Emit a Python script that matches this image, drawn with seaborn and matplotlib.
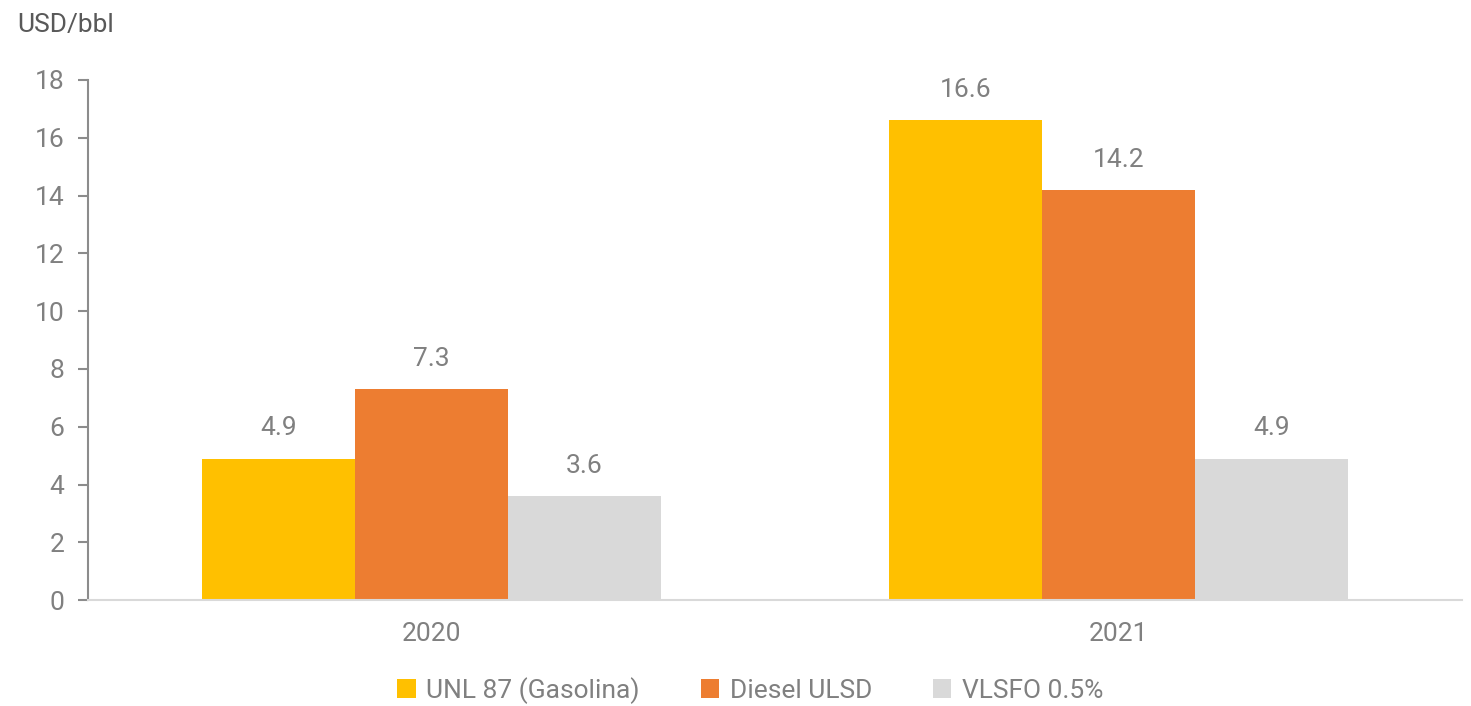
import pandas as pd
import matplotlib.pyplot as plt
import seaborn as sns
from matplotlib.patches import Patch

# Chart data
years = ['2020', '2021']
series = ['UNL 87 (Gasolina)', 'Diesel ULSD', 'VLSFO 0.5%']
gasolina = [4.9, 16.6]
diesel = [7.3, 14.2]
vlsfo = [3.6, 4.9]
colors = ['#FFC000', '#ED7D31', '#D9D9D9']

rows = []
for name, vals in zip(series, [gasolina, diesel, vlsfo]):
    for yr, v in zip(years, vals):
        rows.append((yr, name, v))
df = pd.DataFrame(rows, columns=['Year', 'Product', 'Value'])

sns.set_style('white')
plt.rcParams['font.family'] = ['Roboto', 'DejaVu Sans']
text_gray = '#808080'

fig = plt.figure(figsize=(14.71, 7.06), dpi=100)
ax = fig.add_axes([0.0598, 0.150, 0.934, 0.7367])

sns.barplot(data=df, x='Year', y='Value', hue='Product', order=years,
            hue_order=series, palette=colors, width=0.668, gap=0,
            saturation=1, legend=False, linewidth=0, ax=ax)

for cont in ax.containers:
    ax.bar_label(cont, fmt='%.1f', padding=13, fontsize=19, color=text_gray)

ax.set_ylim(0, 18)
ax.set_yticks(range(0, 19, 2))
ax.set_xlabel('')
ax.set_ylabel('')
ax.tick_params(axis='y', labelsize=19, labelcolor=text_gray, color='#8C8C8C',
               length=7, width=1.5, left=True, pad=10)
ax.tick_params(axis='x', labelsize=19, labelcolor=text_gray, bottom=False, pad=12)

for s in ['top', 'right']:
    ax.spines[s].set_visible(False)
ax.spines['left'].set_color('#8C8C8C')
ax.spines['left'].set_linewidth(1.5)
ax.spines['bottom'].set_color('#D9D9D9')
ax.spines['bottom'].set_linewidth(1.5)

fig.text(0.012, 0.965, 'USD/bbl', fontsize=19, color='#595959', va='center')

handles = [Patch(facecolor=c, edgecolor='none') for c in colors]
fig.legend(handles, series, loc='center', bbox_to_anchor=(0.51, 0.022),
           ncol=3, frameon=False, fontsize=19, labelcolor=text_gray,
           handlelength=0.7, handleheight=0.7, handletextpad=0.4,
           columnspacing=2.3)

fig.savefig('out.png', dpi=100)
